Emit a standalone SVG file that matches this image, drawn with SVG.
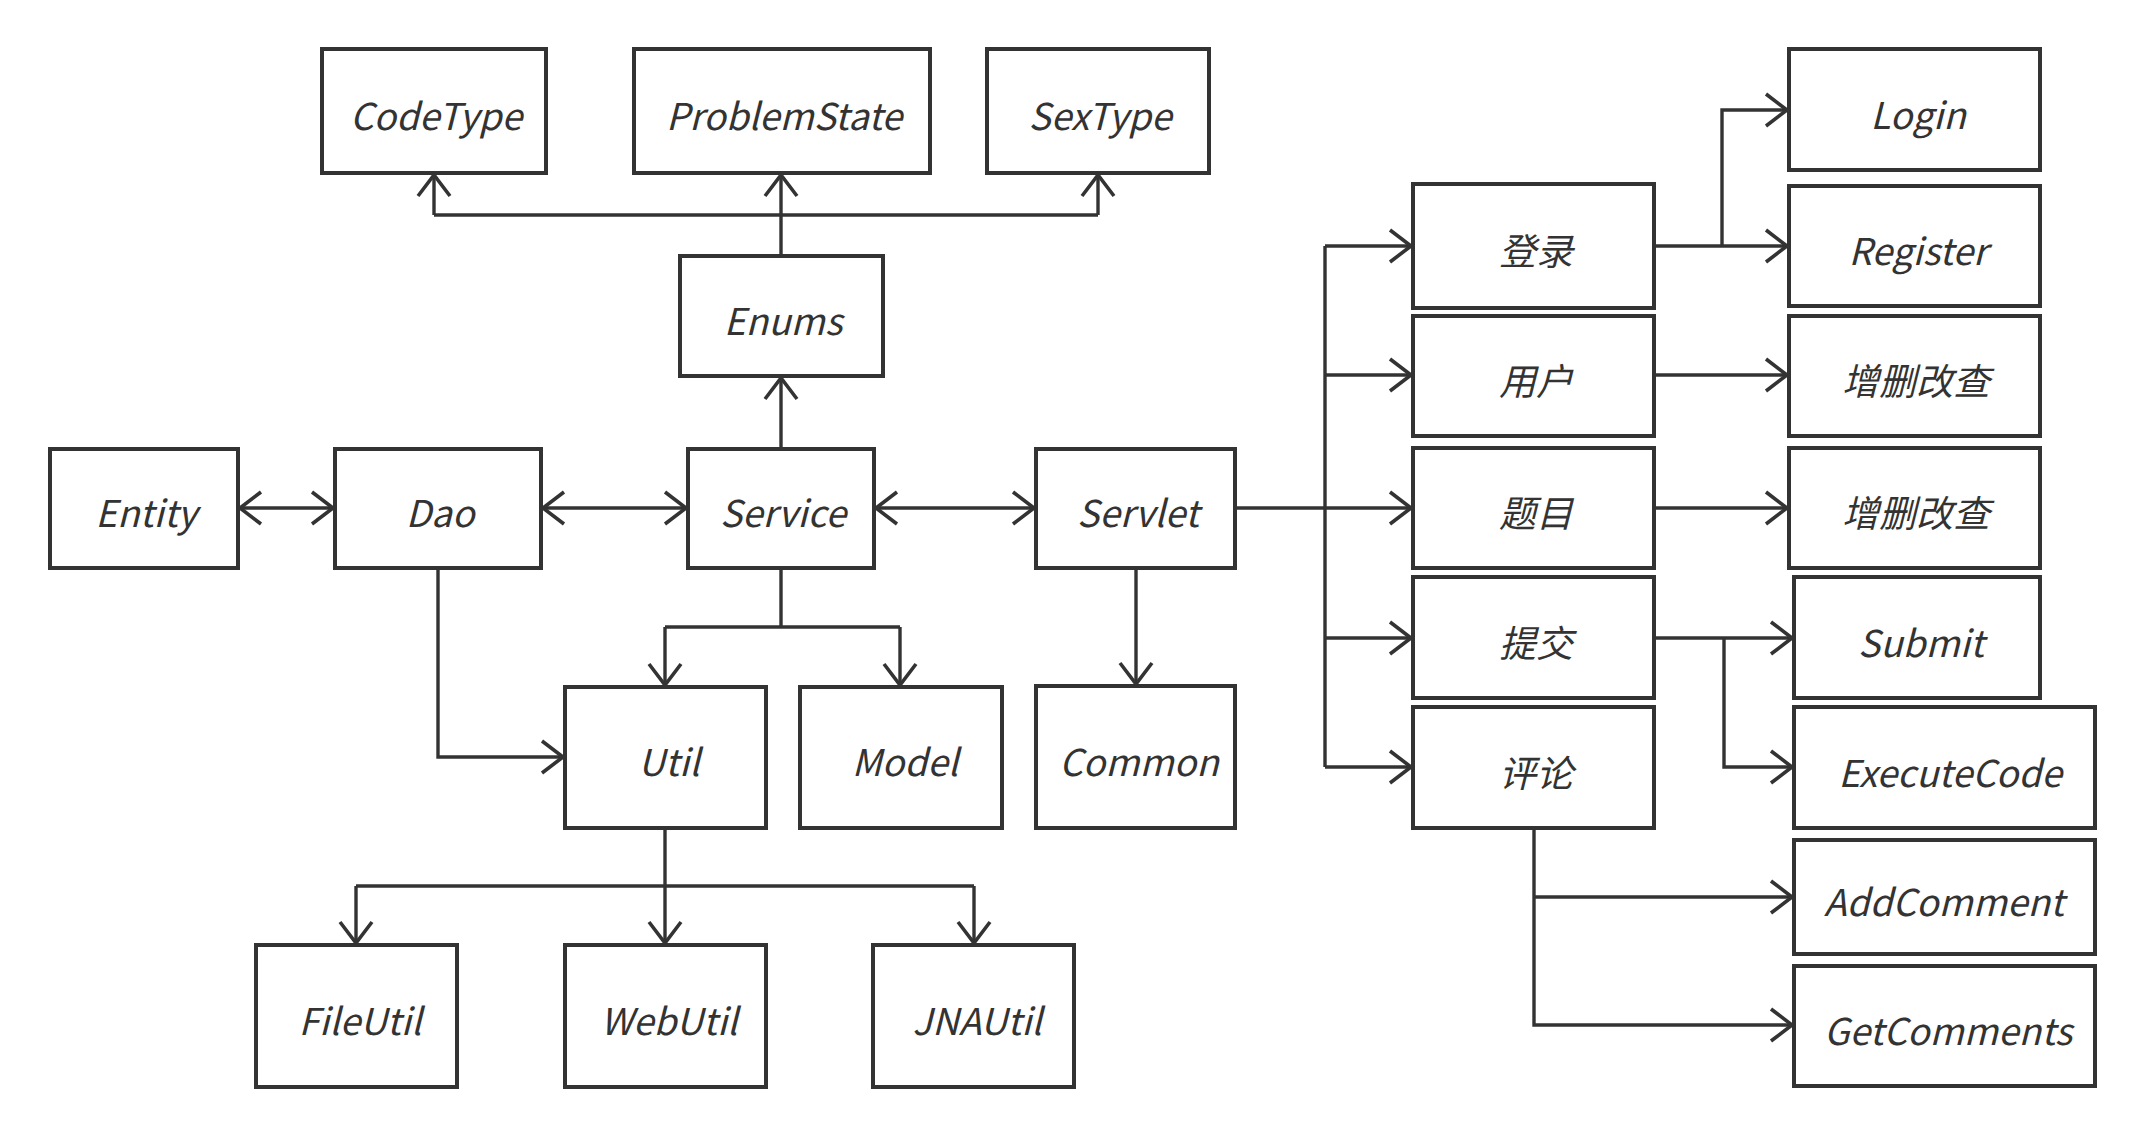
<svg xmlns="http://www.w3.org/2000/svg" width="2143" height="1136" viewBox="0 0 2143 1136">
<style>
.box{fill:#fff;stroke:#333;stroke-width:4}
.lbl{font-family:"Noto Sans CJK SC","Liberation Sans",sans-serif;font-style:italic;font-size:37px;fill:#333;text-anchor:middle}
.ln{fill:none;stroke:#333;stroke-width:3.4}
</style>
<defs>
<marker id="ah" markerUnits="userSpaceOnUse" markerWidth="30" markerHeight="40" viewBox="-24 -20 28 40" refX="0" refY="0" orient="auto-start-reverse">
<path d="M-21,-16 L0,0 L-21,16" fill="none" stroke="#333" stroke-width="3.6"/>
</marker>
</defs>
<rect width="2143" height="1136" fill="#fff"/>
<g id="connectors">
<path class="ln" d="M781,256 V215" />
<path class="ln" d="M434,215 H1098" />
<path class="ln" d="M434,215 V175" marker-end="url(#ah)"/>
<path class="ln" d="M781,215 V175" marker-end="url(#ah)"/>
<path class="ln" d="M1098,215 V175" marker-end="url(#ah)"/>
<path class="ln" d="M781,449 V378" marker-end="url(#ah)"/>
<path class="ln" d="M240,508 H333" marker-start="url(#ah)" marker-end="url(#ah)"/>
<path class="ln" d="M543,508 H686" marker-start="url(#ah)" marker-end="url(#ah)"/>
<path class="ln" d="M876,508 H1034" marker-start="url(#ah)" marker-end="url(#ah)"/>
<path class="ln" d="M1237,508 H1411" marker-end="url(#ah)"/>
<path class="ln" d="M1325,246 V767" />
<path class="ln" d="M1325,246 H1411" marker-end="url(#ah)"/>
<path class="ln" d="M1325,375 H1411" marker-end="url(#ah)"/>
<path class="ln" d="M1325,638 H1411" marker-end="url(#ah)"/>
<path class="ln" d="M1325,767 H1411" marker-end="url(#ah)"/>
<path class="ln" d="M1656,246 H1787" marker-end="url(#ah)"/>
<path class="ln" d="M1722,246 V110 H1787" marker-end="url(#ah)"/>
<path class="ln" d="M1656,375 H1787" marker-end="url(#ah)"/>
<path class="ln" d="M1656,508 H1787" marker-end="url(#ah)"/>
<path class="ln" d="M1656,638 H1792" marker-end="url(#ah)"/>
<path class="ln" d="M1724,638 V767 H1792" marker-end="url(#ah)"/>
<path class="ln" d="M1534,830 V1025 H1792" marker-end="url(#ah)"/>
<path class="ln" d="M1534,897 H1792" marker-end="url(#ah)"/>
<path class="ln" d="M1136,570 V684" marker-end="url(#ah)"/>
<path class="ln" d="M781,570 V627" />
<path class="ln" d="M665,627 H900" />
<path class="ln" d="M665,627 V685" marker-end="url(#ah)"/>
<path class="ln" d="M900,627 V685" marker-end="url(#ah)"/>
<path class="ln" d="M438,570 V757 H563" marker-end="url(#ah)"/>
<path class="ln" d="M665,830 V886" />
<path class="ln" d="M356,886 H974" />
<path class="ln" d="M356,886 V943" marker-end="url(#ah)"/>
<path class="ln" d="M665,886 V943" marker-end="url(#ah)"/>
<path class="ln" d="M974,886 V943" marker-end="url(#ah)"/>
</g>
<g id="n-codetype"><rect class="box" x="322" y="49" width="224" height="124"/><text class="lbl" x="436" y="130">CodeType</text></g>
<g id="n-problemstate"><rect class="box" x="634" y="49" width="296" height="124"/><text class="lbl" x="784" y="130">ProblemState</text></g>
<g id="n-sextype"><rect class="box" x="987" y="49" width="222" height="124"/><text class="lbl" x="1100" y="130">SexType</text></g>
<g id="n-enums"><rect class="box" x="680" y="256" width="203" height="120"/><text class="lbl" x="783" y="335">Enums</text></g>
<g id="n-entity"><rect class="box" x="50" y="449" width="188" height="119"/><text class="lbl" x="146" y="527">Entity</text></g>
<g id="n-dao"><rect class="box" x="335" y="449" width="206" height="119"/><text class="lbl" x="440" y="527">Dao</text></g>
<g id="n-service"><rect class="box" x="688" y="449" width="186" height="119"/><text class="lbl" x="783" y="527">Service</text></g>
<g id="n-servlet"><rect class="box" x="1036" y="449" width="199" height="119"/><text class="lbl" x="1138" y="527">Servlet</text></g>
<g id="n-util"><rect class="box" x="565" y="687" width="201" height="141"/><text class="lbl" x="669" y="776">Util</text></g>
<g id="n-model"><rect class="box" x="800" y="687" width="202" height="141"/><text class="lbl" x="905" y="776">Model</text></g>
<g id="n-common"><rect class="box" x="1036" y="686" width="199" height="142"/><text class="lbl" x="1139" y="776">Common</text></g>
<g id="n-fileutil"><rect class="box" x="256" y="945" width="201" height="142"/><text class="lbl" x="360" y="1035">FileUtil</text></g>
<g id="n-webutil"><rect class="box" x="565" y="945" width="201" height="142"/><text class="lbl" x="669" y="1035">WebUtil</text></g>
<g id="n-jnautil"><rect class="box" x="873" y="945" width="201" height="142"/><text class="lbl" x="977" y="1035">JNAUtil</text></g>
<g id="n-denglu"><rect class="box" x="1413" y="184" width="241" height="124"/><text class="lbl" x="1536" y="265">登录</text></g>
<g id="n-yonghu"><rect class="box" x="1413" y="316" width="241" height="120"/><text class="lbl" x="1536" y="395">用户</text></g>
<g id="n-timu"><rect class="box" x="1413" y="448" width="241" height="120"/><text class="lbl" x="1536" y="527">题目</text></g>
<g id="n-tijiao"><rect class="box" x="1413" y="577" width="241" height="121"/><text class="lbl" x="1536" y="657">提交</text></g>
<g id="n-pinglun"><rect class="box" x="1413" y="707" width="241" height="121"/><text class="lbl" x="1536" y="787">评论</text></g>
<g id="n-login"><rect class="box" x="1789" y="49" width="251" height="121"/><text class="lbl" x="1918" y="129">Login</text></g>
<g id="n-register"><rect class="box" x="1789" y="186" width="251" height="120"/><text class="lbl" x="1918" y="265">Register</text></g>
<g id="n-crud1"><rect class="box" x="1789" y="316" width="251" height="120"/><text class="lbl" x="1916" y="395">增删改查</text></g>
<g id="n-crud2"><rect class="box" x="1789" y="448" width="251" height="120"/><text class="lbl" x="1916" y="527">增删改查</text></g>
<g id="n-submit"><rect class="box" x="1794" y="577" width="246" height="121"/><text class="lbl" x="1921" y="657">Submit</text></g>
<g id="n-executecode"><rect class="box" x="1794" y="707" width="301" height="121"/><text class="lbl" x="1950" y="787">ExecuteCode</text></g>
<g id="n-addcomment"><rect class="box" x="1794" y="840" width="301" height="114"/><text class="lbl" x="1944" y="916">AddComment</text></g>
<g id="n-getcomments"><rect class="box" x="1794" y="966" width="301" height="120"/><text class="lbl" x="1948" y="1045">GetComments</text></g>
</svg>
